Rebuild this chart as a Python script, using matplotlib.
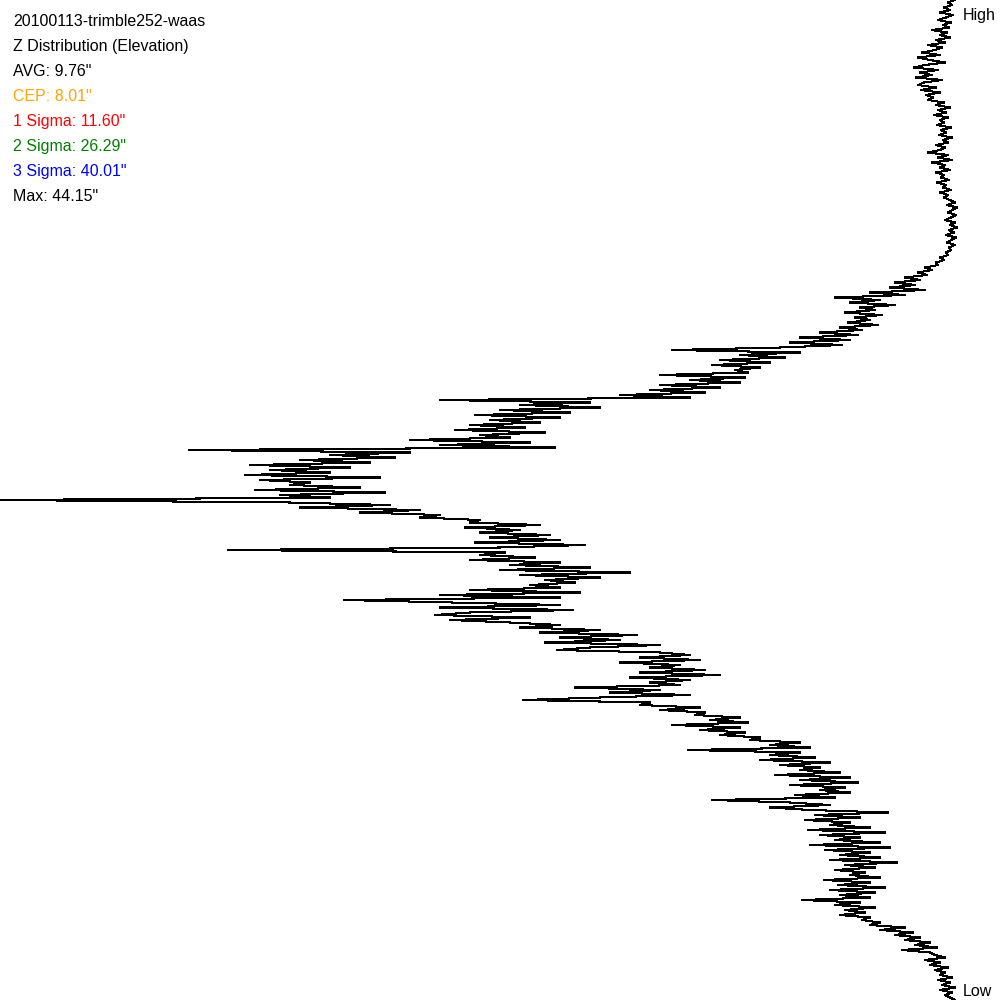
import matplotlib
matplotlib.use("Agg")
from matplotlib import pyplot as plt
import numpy as np

# Z distribution, one count per elevation bin, top (high) to bottom (low)
counts = [
    955, 948, 952, 944, 950, 940, 953, 946, 938, 951, 943, 949, 932, 947, 940, 950, 936, 945, 928, 942,
    935, 922, 940, 918, 930, 945, 925, 914, 938, 920, 932, 916, 942, 924, 918, 936, 921, 940, 926, 933,
    928, 944, 936, 950, 938, 946, 934, 948, 940, 944, 937, 951, 941, 946, 939, 952, 943, 948, 936, 945,
    940, 928, 948, 938, 952, 932, 945, 940, 950, 936, 944, 941, 949, 937, 946, 943, 951, 940, 948, 944,
    950, 955, 947, 957, 952, 948, 956, 951, 945, 955, 950, 957, 949, 954, 946, 956, 951, 947, 955, 949,
    951, 946, 948, 940, 944, 936, 938, 925, 932, 918, 927, 905, 920, 895, 915, 890, 925, 870, 905, 835,
    880, 850, 895, 860, 875, 845, 882, 855, 870, 848, 878, 840, 862, 820, 858, 800, 850, 790, 842, 780,
    672, 800, 740, 785, 720, 770, 712, 760, 735, 748, 660, 745, 690, 740, 660, 720, 650, 705, 620, 690,
    440, 590, 520, 600, 500, 570, 475, 560, 490, 540, 470, 525, 455, 545, 480, 510, 410, 530, 440, 555,
    189, 410, 330, 395, 300, 370, 250, 350, 270, 330, 245, 380, 260, 310, 290, 360, 255, 385, 280, 330,
    0, 290, 390, 300, 420, 360, 440, 420, 480, 470, 540, 465, 520, 480, 550, 490, 560, 475, 585, 500,
    228, 505, 480, 535, 470, 560, 510, 590, 500, 630, 520, 600, 545, 575, 530, 560, 470, 580, 440, 560,
    344, 450, 560, 440, 573, 470, 435, 530, 450, 510, 560, 520, 600, 540, 637, 560, 620, 545, 660, 590,
    557, 660, 690, 640, 700, 620, 680, 650, 705, 640, 720, 630, 690, 650, 680, 575, 660, 610, 690, 600,
    523, 650, 640, 700, 660, 705, 695, 740, 710, 748, 672, 740, 700, 745, 720, 760, 750, 800, 770, 810,
    688, 800, 770, 815, 760, 830, 780, 820, 800, 840, 775, 850, 800, 858, 790, 845, 820, 850, 795, 835,
    712, 790, 830, 770, 810, 888, 815, 860, 805, 850, 830, 870, 808, 885, 820, 860, 835, 880, 810, 890,
    825, 870, 840, 880, 830, 897, 845, 875, 835, 865, 850, 880, 824, 870, 838, 885, 830, 875, 840, 870,
    802, 860, 835, 875, 845, 865, 840, 870, 862, 880, 870, 905, 880, 913, 895, 920, 905, 930, 915, 937,
    902, 930, 935, 945, 925, 940, 930, 948, 935, 945, 940, 952, 938, 950, 942, 955, 940, 952, 945, 950,
    955,
]

title = "20100113-trimble252-waas"
subtitle = "Z Distribution (Elevation)"
stat_labels = ['AVG: 9.76"', 'CEP: 8.01"', '1 Sigma: 11.60"', '2 Sigma: 26.29"', '3 Sigma: 40.01"', 'Max: 44.15"']
stat_colors = ['black', '#ffa500', '#ff0000', '#008000', '#0000ff', 'black']

n_bins = len(counts) - 1
bins = np.arange(len(counts))

fig = plt.figure(figsize=(10, 10), dpi=100)
ax = fig.add_axes([0, 0, 1, 1])
ax.plot(counts, bins, color='black', lw=0.75, antialiased=False)
ax.set_xlim(0, 1000)
ax.set_ylim(n_bins, 0)
ax.axis('off')

fam = ['Liberation Sans', 'DejaVu Sans']
lines = [(title, 'black'), (subtitle, 'black')] + list(zip(stat_labels, stat_colors))
for i, (txt, c) in enumerate(lines):
    fig.text(0.013, 1 - (26 + 25 * i) / 1000, txt, color=c, fontsize=11.5,
             ha='left', va='baseline', family=fam)

fig.text(0.963, 1 - 20 / 1000, 'High', fontsize=11.5, ha='left', va='baseline', family=fam)
fig.text(0.963, 1 - 996 / 1000, 'Low', fontsize=11.5, ha='left', va='baseline', family=fam)

fig.savefig('out.png', dpi=100, facecolor='white')
